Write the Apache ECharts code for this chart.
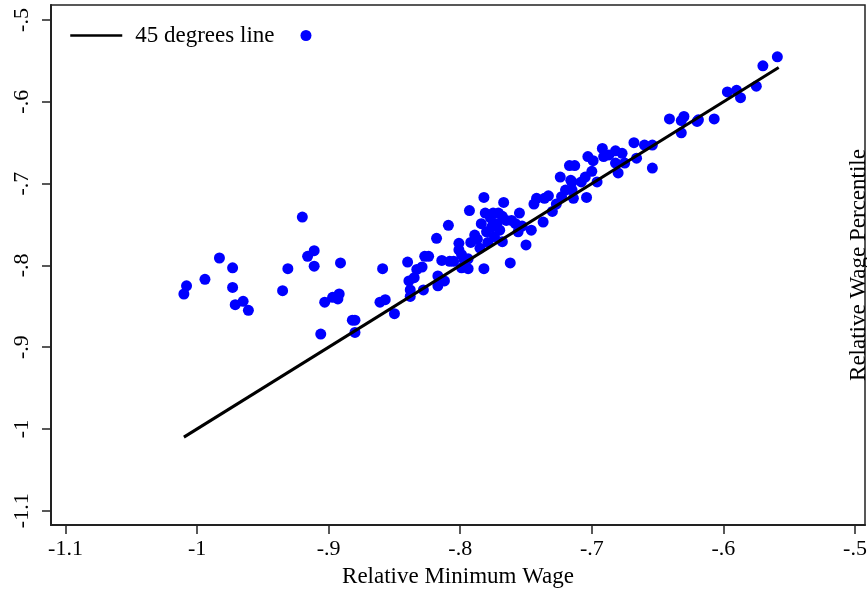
<!DOCTYPE html>
<html>
<head>
<meta charset="utf-8">
<script src="https://cdn.jsdelivr.net/npm/echarts@6/dist/echarts.min.js"></script>
<style>html,body{margin:0;padding:0;background:#fff}#c{width:867px;height:592px}</style>
</head>
<body>
<div id="c"></div>
<script>
// Relative Minimum Wage (x) vs Relative Wage Percentile (y)
const minWage = [
-0.920,-0.983,-0.973,-0.994,-1.008,-1.010,-0.973,-0.971,-0.965,-0.961,
-0.916,-0.911,-0.911,-0.931,-0.935,-0.891,-0.903,-0.897,-0.892,-0.893,
-0.906,-0.882,-0.880,-0.880,-0.859,-0.861,-0.857,-0.850,
-0.840,-0.839,-0.838,-0.838,-0.835,-0.833,-0.829,-0.828,-0.827,-0.824,
-0.818,-0.817,-0.817,-0.814,-0.812,-0.809,-0.808,-0.805,-0.801,-0.801,
-0.799,-0.799,-0.797,-0.794,-0.794,-0.793,-0.792,-0.789,-0.787,-0.785,
-0.784,-0.782,-0.782,-0.781,-0.780,-0.779,-0.777,-0.776,-0.775,-0.774,
-0.772,-0.771,-0.770,-0.768,-0.767,-0.765,-0.762,-0.761,-0.758,-0.756,
-0.755,-0.753,-0.750,-0.746,-0.744,-0.742,-0.737,-0.736,-0.733,-0.730,
-0.727,-0.723,-0.720,-0.715,-0.714,-0.768,-0.724,-0.717,-0.716,-0.715,
-0.713,-0.708,-0.705,-0.704,-0.703,-0.700,-0.699,-0.696,-0.692,-0.691,
-0.687,-0.682,-0.682,-0.680,-0.677,-0.675,-0.668,-0.666,-0.660,-0.654,
-0.654,-0.641,-0.632,-0.630,-0.620,-0.632,-0.619,-0.607,-0.597,-0.590,
-0.587,-0.575,-0.570,-0.559
];
const wagePct = [
-0.741,-0.791,-0.803,-0.817,-0.825,-0.835,-0.827,-0.848,-0.844,-0.855,
-0.789,-0.782,-0.801,-0.804,-0.831,-0.797,-0.845,-0.839,-0.835,-0.841,
-0.884,-0.867,-0.867,-0.882,-0.804,-0.845,-0.842,-0.859,
-0.796,-0.819,-0.830,-0.838,-0.815,-0.805,-0.802,-0.830,-0.789,-0.789,
-0.767,-0.813,-0.825,-0.794,-0.819,-0.751,-0.795,-0.795,-0.773,-0.781,
-0.787,-0.803,-0.793,-0.792,-0.804,-0.733,-0.772,-0.763,-0.768,-0.779,
-0.749,-0.804,-0.717,-0.736,-0.759,-0.772,-0.742,-0.753,-0.736,-0.765,
-0.749,-0.736,-0.757,-0.771,-0.723,-0.745,-0.797,-0.745,-0.749,-0.759,
-0.736,-0.752,-0.775,-0.757,-0.725,-0.718,-0.747,-0.718,-0.715,-0.734,
-0.725,-0.716,-0.708,-0.698,-0.718,-0.740,-0.692,-0.678,-0.696,-0.708,
-0.678,-0.698,-0.692,-0.717,-0.667,-0.685,-0.672,-0.698,-0.657,-0.667,
-0.665,-0.675,-0.660,-0.687,-0.663,-0.675,-0.650,-0.669,-0.653,-0.681,
-0.653,-0.621,-0.638,-0.618,-0.624,-0.623,-0.622,-0.621,-0.588,-0.586,
-0.595,-0.581,-0.556,-0.545
];
const lineX = [-1.010, -0.558];
const xTicks = [-1.1, -1.0, -0.9, -0.8, -0.7, -0.6, -0.5];
const yTicks = [-1.1, -1.0, -0.9, -0.8, -0.7, -0.6, -0.5];

const fmt = v => String(+(+v).toFixed(1)).replace('-0.', '-.');
const font = 'Liberation Serif';
const axisCol = '#222';

const chart = echarts.init(document.getElementById('c'), null, {renderer: 'canvas'});
chart.setOption({
  animation: false,
  backgroundColor: '#fff',
  grid: {left: 51, right: 2, top: 5, bottom: 67, containLabel: false, outerBoundsMode: 'none',
         show: true, borderColor: axisCol, borderWidth: 1.5, backgroundColor: 'transparent'},
  legend: {
    left: 64, top: 19, itemWidth: 52, itemHeight: 11, itemGap: 26,
    textStyle: {fontFamily: font, fontSize: 23, color: '#000', padding: [0, 0, 0, 8]},
    data: [
      {name: '45 degrees line', itemStyle: {color: 'rgba(0,0,0,0)', borderWidth: 0}, lineStyle: {color: '#000', width: 2.5}},
      {name: ' ', icon: 'circle'}
    ]
  },
  xAxis: {
    type: 'value', min: -1.111, max: -0.4924,
    name: 'Relative Minimum Wage', nameLocation: 'middle', nameGap: 40,
    nameTextStyle: {fontFamily: font, fontSize: 23, color: '#000'},
    axisLine: {show: true, onZero: false, lineStyle: {color: axisCol, width: 2}},
    axisTick: {show: true, length: 9, customValues: xTicks, lineStyle: {color: axisCol, width: 1.5}},
    axisLabel: {customValues: xTicks, formatter: fmt, fontFamily: font, fontSize: 22, color: '#000', margin: 13},
    splitLine: {show: false}
  },
  yAxis: [{
    type: 'value', min: -1.1174, max: -0.4817,
    axisLine: {show: true, onZero: false, lineStyle: {color: axisCol, width: 2}},
    axisTick: {show: true, length: 9, customValues: yTicks, lineStyle: {color: axisCol, width: 1.5}},
    axisLabel: {customValues: yTicks, formatter: fmt, rotate: 90, fontFamily: font, fontSize: 22, color: '#000', margin: 18},
    splitLine: {show: false}
  }, {
    type: 'value', position: 'right', min: -1.1174, max: -0.4817,
    name: 'Relative Wage Percentile', nameLocation: 'middle', nameGap: -18,
    nameTextStyle: {fontFamily: font, fontSize: 23, color: '#000'},
    axisLine: {show: false}, axisTick: {show: false}, axisLabel: {show: false}, splitLine: {show: false}
  }],
  series: [{
    name: ' ', type: 'scatter', symbol: 'circle', symbolSize: 11,
    itemStyle: {color: '#0000ff', opacity: 1},
    data: minWage.map((x, i) => [x, wagePct[i]]), z: 2
  }, {
    name: '45 degrees line', type: 'line', symbol: 'none',
    lineStyle: {color: '#000', width: 3},
    itemStyle: {color: '#000'},
    data: lineX.map(v => [v, v]), z: 3
  }]
});
</script>
</body>
</html>
